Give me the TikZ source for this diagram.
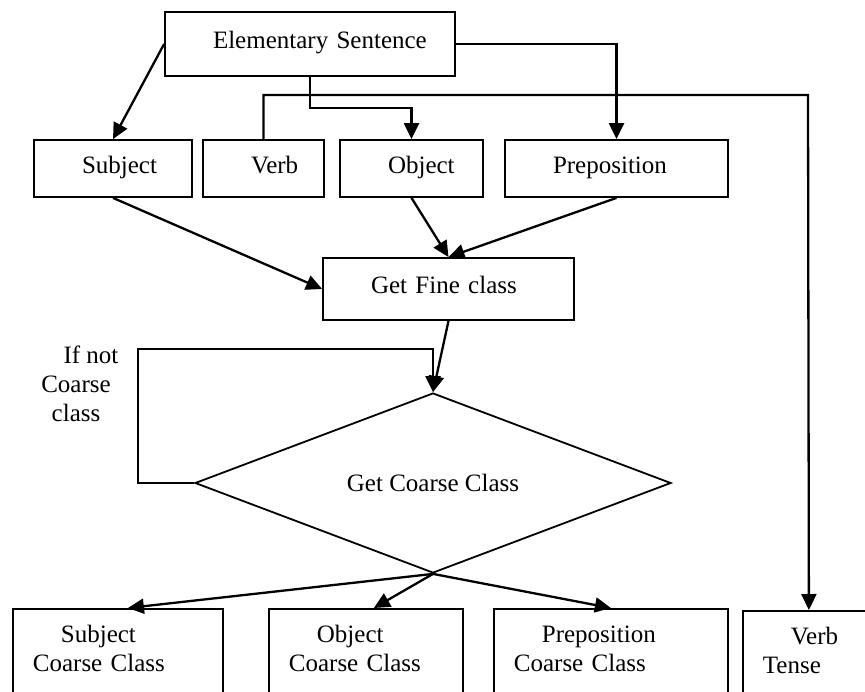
\documentclass[tikz,border=0pt]{standalone}
\usepackage{fontspec}
\setmainfont{Liberation Serif}
\usetikzlibrary{arrows.meta,shapes.geometric}
\newcommand{\ind}{\hspace*{28pt}}

\begin{document}
\begin{tikzpicture}[x=1pt,y=-1pt,
        font=\fontsize{25}{29}\selectfont,
        box/.style={draw,line width=1.8pt,rectangle,inner xsep=20pt,inner ysep=0pt,
            align=left,text width=#1,text height=17pt,text depth=8pt},
        lowbox/.style={box=#1,anchor=north west,inner ysep=16pt,text height=18pt,text depth=110pt},
        arr/.style={line width=2.3pt,-{Triangle[length=16pt,width=15pt]}}]
        \useasboundingbox (0,0) rectangle (865,691);
        \clip (0,0) rectangle (865,691);
        % top and word boxes
        \node[box=250pt,minimum height=64pt] (elem) at (310,44) {\ind Elementary Sentence};
        \node[box=118pt,minimum height=57pt] (subj) at (113,168.5) {\ind Subject};
        \node[box=81pt,minimum height=57pt] (verb) at (263.5,168.5) {\ind Verb};
        \node[box=103pt,minimum height=57pt] (obj) at (411.5,168.5) {\ind Object};
        \node[box=183pt,minimum height=57pt] (prep) at (616.5,168.5) {\ind Preposition};
        \node[box=211pt,minimum height=62pt] (fine) at (448.5,289) {\ind Get Fine class};
        \node[draw,diamond,aspect=2.64,line width=1.8pt,inner sep=0pt,
            minimum width=476pt,minimum height=180pt] (coarse) at (433,483) {Get Coarse Class};
        \node[align=center] (ifnot) at (76,384) {\hspace*{30pt}If not\\Coarse\\class};
        % result boxes
        \node[lowbox=170pt] (scc) at (12,608) {\ind Subject\\Coarse Class};
        \node[lowbox=154pt] (occ) at (268,608) {\ind Object\\Coarse Class};
        \node[lowbox=194pt] (pcc) at (493,608) {\ind Preposition\\Coarse Class};
        \node[lowbox=92pt] (tense) at (742,610) {\ind Verb\\Tense};
        \coordinate (objbend) at (411.5,108);
        \coordinate (verbbend) at (808,95);
        \coordinate (loop) at (138,349);
        % connectors
        \draw[arr] (elem.west) -- (subj.north);
        \draw[arr] (elem.south) |- (objbend) -- (obj.north);
        \draw[arr] (elem.east) -| (prep.north);
        \draw[arr] (verb.north) |- (verbbend) -- (tense.north);
        \draw[arr] (subj.south) -- (fine.west);
        \draw[arr] (obj.south) -- (fine.north);
        \draw[arr] (prep.south) -- (fine.north);
        \draw[arr] (fine.south) -- (coarse.north);
        \draw[arr] (coarse.west) -| (loop) -| (coarse.north);
        \draw[arr] (coarse.south) -- ([xshift=10pt]scc.north);
        \draw[arr] (coarse.south) -- ([xshift=8pt]occ.north);
        \draw[arr] (coarse.south) -- (pcc.north);
    \end{tikzpicture}
\end{document}
